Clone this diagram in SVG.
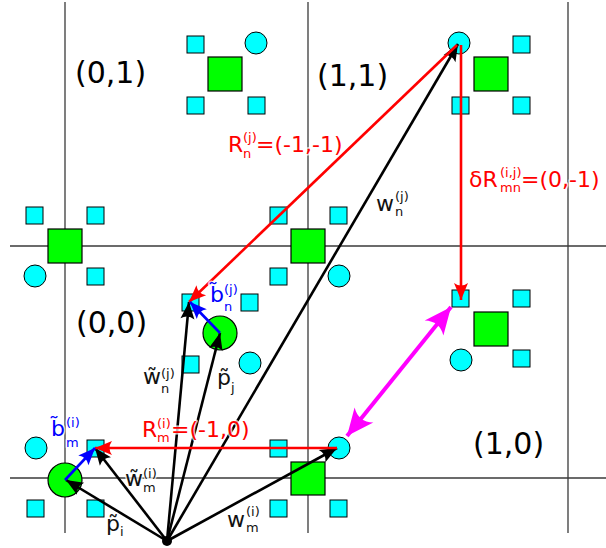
<svg xmlns="http://www.w3.org/2000/svg" width="606" height="548" viewBox="0 0 606 548">
<defs>
<style>
.grid{stroke:#3a3a3a;stroke-width:1.3;fill:none}
.g{fill:#00ff00;stroke:#000;stroke-width:1.2}
.c{fill:#00ffff;stroke:#000;stroke-width:1}
.ab{stroke:#000;stroke-width:2.6;fill:none;marker-end:url(#hb)}
.ar{stroke:#ff0000;stroke-width:2.6;fill:none;marker-end:url(#hr)}
.abl{stroke:#0000ff;stroke-width:2.6;fill:none;marker-end:url(#hbl)}
.am{stroke:#ff00ff;stroke-width:4;fill:none;marker-start:url(#hm);marker-end:url(#hm)}
text{font-family:"DejaVu Sans","Liberation Sans",sans-serif;paint-order:stroke;stroke:#fff;stroke-opacity:0.75;stroke-width:3;stroke-linejoin:round}
.reg{font-size:30px;fill:#000;stroke:none}
.m{font-size:22px}
.s{font-size:13px}
.red{fill:#ff0000}
.blu{fill:#0000ff}
.blk{fill:#111}
</style>
<marker id="hb" viewBox="-18 -8 19 16" refX="0" refY="0" markerWidth="19" markerHeight="16" markerUnits="userSpaceOnUse" orient="auto"><path d="M0,0 L-17,-7 Q-12,0 -17,7 Z" fill="#000"/></marker>
<marker id="hr" viewBox="-18 -8 19 16" refX="0" refY="0" markerWidth="19" markerHeight="16" markerUnits="userSpaceOnUse" orient="auto"><path d="M0,0 L-17,-7 Q-12,0 -17,7 Z" fill="#ff0000"/></marker>
<marker id="hbl" viewBox="-18 -8 19 16" refX="0" refY="0" markerWidth="19" markerHeight="16" markerUnits="userSpaceOnUse" orient="auto"><path d="M0,0 L-17,-7 Q-12,0 -17,7 Z" fill="#0000ff"/></marker>
<marker id="hm" viewBox="-28 -13 29 26" refX="0" refY="0" markerWidth="29" markerHeight="26" markerUnits="userSpaceOnUse" orient="auto-start-reverse"><path d="M0,0 L-27,-12 Q-18,0 -27,12 Z" fill="#ff00ff"/></marker>
</defs>
<rect width="606" height="548" fill="#fff"/>
<g id="grid">
<line class="grid" x1="65" y1="2" x2="65" y2="533"/>
<line class="grid" x1="308" y1="2" x2="308" y2="533"/>
<line class="grid" x1="568" y1="2" x2="568" y2="533"/>
<line class="grid" x1="10" y1="246" x2="606" y2="246"/>
<line class="grid" x1="10" y1="478" x2="606" y2="478"/>
</g>
<g id="cell-0-1-atoms">
<rect class="g" x="208" y="57" width="34" height="34"/>
<rect class="c" x="187" y="36" width="17" height="17"/>
<circle class="c" cx="256" cy="43" r="11"/>
<rect class="c" x="187" y="97" width="17" height="17"/>
<rect class="c" x="248" y="97" width="17" height="17"/>
</g>
<g id="cell-1-1-atoms">
<rect class="g" x="474" y="57" width="34" height="34"/>
<circle class="c" cx="459" cy="43" r="11"/>
<rect class="c" x="513" y="36" width="17" height="17"/>
<rect class="c" x="452" y="97" width="17" height="17"/>
<rect class="c" x="513" y="97" width="17" height="17"/>
</g>
<g id="site-0-1">
<rect class="g" x="48" y="229" width="34" height="34"/>
<rect class="c" x="26" y="207" width="17" height="17"/>
<rect class="c" x="87" y="207" width="17" height="17"/>
<circle class="c" cx="35" cy="276" r="11"/>
<rect class="c" x="87" y="268" width="17" height="17"/>
</g>
<g id="site-1-1">
<rect class="g" x="291" y="229" width="34" height="34"/>
<rect class="c" x="270" y="207" width="17" height="17"/>
<rect class="c" x="330" y="207" width="17" height="17"/>
<rect class="c" x="270" y="268" width="17" height="17"/>
<circle class="c" cx="339" cy="276" r="11"/>
</g>
<g id="cell-0-0-atoms">
<circle class="g" cx="220" cy="333" r="17"/>
<rect class="c" x="182" y="294" width="17" height="17"/>
<rect class="c" x="241" y="294" width="17" height="17"/>
<rect class="c" x="182" y="356" width="17" height="17"/>
<circle class="c" cx="250" cy="363" r="11"/>
</g>
<g id="cell-1-0-atoms">
<rect class="g" x="474" y="312" width="34" height="34"/>
<rect class="c" x="452" y="290" width="17" height="17"/>
<rect class="c" x="513" y="290" width="17" height="17"/>
<circle class="c" cx="461" cy="360" r="11"/>
<rect class="c" x="513" y="350" width="17" height="17"/>
</g>
<g id="site-0-0">
<circle class="g" cx="65" cy="480" r="17"/>
<circle class="c" cx="36" cy="448" r="11"/>
<rect class="c" x="87" y="440" width="17" height="17"/>
<rect class="c" x="27" y="500" width="17" height="17"/>
<rect class="c" x="87" y="500" width="17" height="17"/>
</g>
<g id="site-1-0">
<rect class="g" x="291" y="462" width="34" height="33"/>
<rect class="c" x="270" y="440" width="17" height="17"/>
<circle class="c" cx="339" cy="448" r="11"/>
<rect class="c" x="270" y="500" width="17" height="17"/>
<rect class="c" x="330" y="500" width="17" height="17"/>
</g>
<g id="connectors">
<line class="ab" x1="167" y1="541" x2="66" y2="480"/>
<line class="ab" x1="167" y1="541" x2="95" y2="448"/>
<line class="ab" x1="167" y1="541" x2="189" y2="302"/>
<line class="ab" x1="167" y1="541" x2="220" y2="333"/>
<line class="ab" x1="167" y1="541" x2="458" y2="44"/>
<line class="ab" x1="167" y1="541" x2="337" y2="448"/>
<line class="ar" x1="457" y1="45" x2="189" y2="302"/>
<line class="ar" x1="461" y1="45" x2="461" y2="300"/>
<line class="ar" x1="337" y1="448" x2="95" y2="448"/>
<line class="abl" x1="220" y1="333" x2="190" y2="302"/>
<line class="abl" x1="65" y1="480" x2="95" y2="448"/>
<line class="am" x1="347" y1="436" x2="451" y2="307"/>
<circle id="origin" cx="167" cy="541" r="5" fill="#000"/>
</g>
<g id="region-labels">
<text class="reg" x="75" y="83">(0,1)</text>
<text class="reg" x="317" y="86">(1,1)</text>
<text class="reg" x="76" y="333">(0,0)</text>
<text class="reg" x="473" y="454">(1,0)</text>
</g>
<g id="labels">
<text class="m red" x="228" y="152">R</text>
<text class="s red" x="243" y="142">(j)</text>
<text class="s red" x="243" y="158">n</text>
<text class="m red" x="256" y="152">=(-1,-1)</text>

<text class="m red" x="469" y="187">δR</text>
<text class="s red" x="500" y="177">(i,j)</text>
<text class="s red" x="500" y="192">mn</text>
<text class="m red" x="521" y="187">=(0,-1)</text>

<text class="m red" x="142" y="437">R</text>
<text class="s red" x="157" y="428">(i)</text>
<text class="s red" x="157" y="442">m</text>
<text class="m red" x="171" y="437">=(-1,0)</text>

<text class="m blu" x="210" y="302">b&#771;</text>
<text class="s blu" x="224" y="294">(j)</text>
<text class="s blu" x="224" y="311">n</text>

<text class="m blu" x="51" y="436">b&#771;</text>
<text class="s blu" x="66" y="427">(i)</text>
<text class="s blu" x="66" y="447">m</text>

<text class="m blk" x="376" y="211">w</text>
<text class="s blk" x="395" y="201">(j)</text>
<text class="s blk" x="395" y="216">n</text>

<text class="m blk" x="143" y="384">w&#771;</text>
<text class="s blk" x="161" y="378">(j)</text>
<text class="s blk" x="161" y="393">n</text>

<text class="m blk" x="217" y="385">p&#771;</text>
<text class="s blk" x="231" y="392">j</text>

<text class="m blk" x="125" y="486">w&#771;</text>
<text class="s blk" x="143" y="478">(i)</text>
<text class="s blk" x="143" y="492">m</text>

<text class="m blk" x="106" y="531">p&#771;</text>
<text class="s blk" x="120" y="536">i</text>

<text class="m blk" x="227" y="527">w</text>
<text class="s blk" x="246" y="516">(i)</text>
<text class="s blk" x="246" y="532">m</text>
</g>
</svg>
